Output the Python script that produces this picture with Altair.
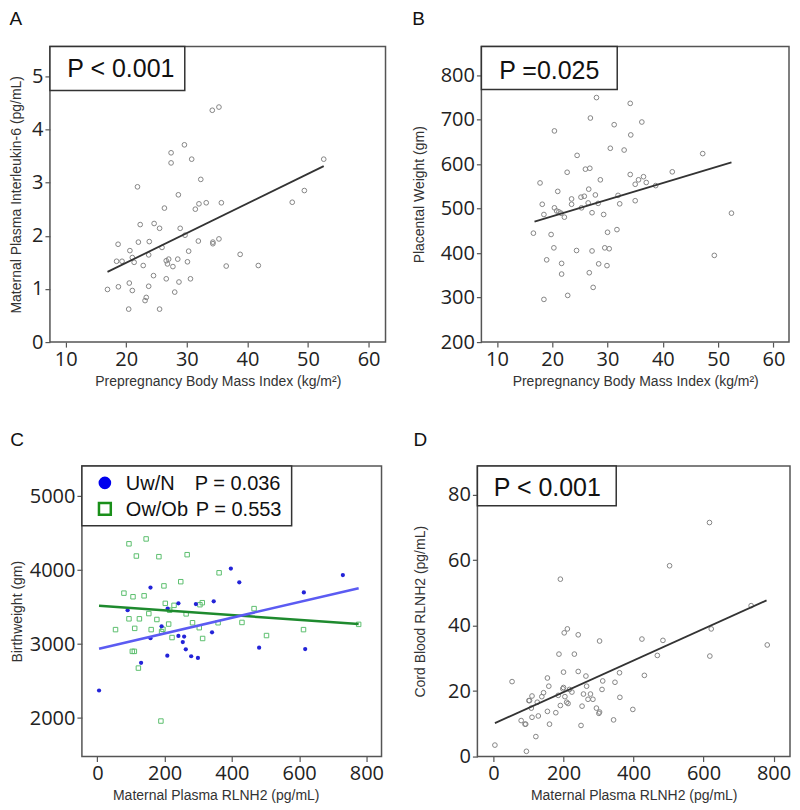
import altair as alt
import pandas as pd

# ---------------- Panel A: BMI vs IL-6 ----------------
a_x = [16.9, 18.65, 18.4, 19.3, 18.7, 21.85, 20.6, 21.0, 21.3, 20.5, 21.0, 20.4, 22.0, 22.3, 22.8,
       23.8, 23.7, 23.7, 23.3, 23.1, 24.6, 24.5, 25.5, 25.5, 25.9, 26.3, 26.6, 26.6, 26.8, 27.0,
       27.4, 27.4, 27.7, 28.0, 28.5, 28.6, 28.7, 28.9, 29.6, 29.7, 30.1, 30.3, 30.6, 30.8, 31.4,
       32.0, 31.9, 32.3, 33.2, 34.2, 35.3, 34.3, 34.3, 35.3, 35.7, 36.5, 38.8, 41.8, 47.4, 49.4, 52.6]
a_y = [0.99, 1.84, 1.52, 1.52, 1.04, 2.92, 1.72, 1.59, 1.50, 1.11, 0.97, 0.62, 1.88, 2.21, 1.44,
       1.89, 1.64, 1.05, 0.84, 0.78, 2.23, 1.25, 2.14, 0.62, 1.78, 2.52, 1.53, 1.19, 1.47, 1.56,
       3.56, 3.37, 1.42, 0.94, 1.56, 2.77, 1.13, 2.14, 3.71, 2.01, 1.51, 1.71, 1.19, 3.44, 2.50,
       2.60, 1.90, 3.06, 2.62, 4.36, 4.42, 1.85, 1.88, 1.94, 2.62, 1.43, 1.65, 1.44, 2.63, 2.85, 3.44]
a_fit_x = [16.9, 52.6]
a_fit_y = [1.32, 3.31]

# ---------------- Panel B: BMI vs placental weight ----------------
b_x = [16.6, 17.8, 18.2, 18.5, 18.5, 19.0, 19.8, 20.3, 20.4, 20.4, 20.8, 21.0, 21.2, 21.6, 21.7,
       21.7, 22.2, 22.7, 22.8, 23.5, 23.5, 24.4, 24.5, 25.2, 25.3, 25.8, 26.0, 26.5, 26.6, 26.7,
       26.8, 26.9, 27.2, 27.2, 27.4, 27.8, 28.0, 28.3, 28.4, 28.7, 29.3, 29.5, 29.9, 30.0, 30.3,
       30.5, 31.2, 31.7, 31.9, 32.2, 33.0, 34.1, 34.1, 34.2, 35.0, 35.0, 35.6, 36.2, 36.5, 37.0,
       38.7, 41.7, 47.2, 49.3, 52.4]
b_y = [445, 558, 510, 487, 296, 385, 442, 412, 675, 502, 495, 539, 493, 490, 377,
       353, 481, 582, 305, 522, 510, 406, 620, 526, 502, 528, 589, 513, 544, 356,
       591, 704, 491, 405, 323, 531, 750, 512, 376, 565, 487, 412, 372, 447, 410,
       636, 689, 453, 530, 511, 632, 737, 577, 666, 518, 555, 565, 695, 572, 559,
       552, 583, 624, 395, 490]
b_fit_x = [16.8, 52.4]
b_fit_y = [471, 604]

# ---------------- Panel C: RLNH2 vs birthweight ----------------
cb_x = [5, 90, 130, 158, 158, 191, 209, 208, 241, 241, 254, 258, 263, 279, 293, 299, 341, 346,
        397, 422, 481, 614, 618, 730]
cb_y = [2373, 3458, 2747, 3764, 3080, 3240, 3480, 2844, 3551, 3111, 3027, 3102, 2929, 2836,
        3542, 2813, 3160, 3578, 4022, 3836, 2951, 3698, 2933, 3933]
cg_x = [54, 79, 94, 94, 106, 104, 110, 111, 116, 122, 125, 139, 145, 153, 160, 177, 183, 189,
        191, 195, 198, 198, 202, 212, 215, 222, 228, 248, 264, 267, 283, 303, 305, 312, 313,
        359, 362, 430, 466, 503, 613, 777]
cg_y = [3196, 3689, 4356, 3342, 3640, 2902, 2902, 3213, 4191, 2676, 3342, 3653, 4422, 3413,
        3196, 3333, 4182, 1960, 3169, 3200, 4653, 3787, 3551, 3271, 3458, 3089, 3524, 3844,
        3409, 4209, 3289, 3222, 3533, 3560, 3076, 3289, 3964, 3293, 3480, 3116, 3196, 3267]
cb_fit_x = [5, 777]
cb_fit_y = [2938, 3756]
cg_fit_x = [5, 777]
cg_fit_y = [3520, 3271]

# ---------------- Panel D: maternal vs cord RLNH2 ----------------
d_x = [4, 53, 79, 90, 92, 94, 101, 103, 110, 108, 110, 121, 125, 128, 138, 143, 154, 154, 158,
       160, 178, 185, 187, 191, 191, 198, 200, 200, 202, 204, 209, 211, 213, 217, 224, 231, 242,
       242, 250, 253, 257, 264, 266, 270, 277, 284, 294, 301, 303, 303, 310, 312, 343, 347, 360,
       361, 398, 424, 431, 468, 484, 503, 617, 618, 622, 736, 782]
d_y = [3.5, 22.9, 11.0, 9.9, 9.9, 1.6, 17.1, 17.1, 18.5, 14.8, 12.0, 6.1, 16.6, 12.4, 18.3, 19.5,
       24.0, 13.8, 21.5, 9.9, 13.4, 18.7, 31.3, 54.2, 15.6, 20.7, 25.8, 21.1, 37.8, 18.3, 16.6,
       39.0, 16.2, 20.5, 19.7, 31.3, 37.2, 26.0, 9.5, 15.4, 19.1, 24.6, 21.5, 17.5, 19.1, 17.5,
       14.8, 13.2, 35.3, 13.6, 20.5, 23.1, 11.2, 22.7, 25.6, 18.1, 14.4, 35.9, 24.8, 30.9, 35.5,
       58.3, 71.5, 30.7, 39.0, 46.1, 34.1]
d_fit_x = [4, 780]
d_fit_y = [10.2, 47.7]

BMI_TICKS = [10, 20, 30, 40, 50, 60]
RL_TICKS = [0, 200, 400, 600, 800]
BMI_TITLE = "Prepregnancy Body Mass Index (kg/m\u00b2)"
RL_TITLE = "Maternal Plasma RLNH2 (pg/mL)"
FRAME = "#555555"


def enc(xdom, ydom, xvals=None, yvals=None, xtitle=None, ytitle=None, ytp=10, yoff=0):
    xs = alt.Scale(domain=xdom, nice=False, zero=False)
    ys = alt.Scale(domain=ydom, nice=False, zero=False)
    if xvals is None:
        return dict(x=alt.X("x:Q", scale=xs), y=alt.Y("y:Q", scale=ys))
    return dict(
        x=alt.X("x:Q", scale=xs, axis=alt.Axis(values=xvals, title=xtitle, format="d",
                                               titlePadding=5, labelPadding=2)),
        y=alt.Y("y:Q", scale=ys, axis=alt.Axis(values=yvals, title=ytitle, format="d",
                                               titlePadding=ytp, labelPadding=2, offset=yoff)),
    )


def gray_points(x, y, e):
    return alt.Chart(pd.DataFrame({"x": x, "y": y})).mark_point(
        shape="circle", filled=False, size=22, color="#858585", strokeWidth=1, opacity=1
    ).encode(**e)


def fit_line(x, y, e, color="#333333", sw=1.8):
    return alt.Chart(pd.DataFrame({"x": x, "y": y})).mark_line(color=color, strokeWidth=sw).encode(**e)


def pbox(text, w, h, tx, ty):
    one = pd.DataFrame({"t": [text]})
    box = alt.Chart(one).mark_rect(fill="white", stroke="#333333", strokeWidth=1.5).encode(
        x=alt.value(0), x2=alt.value(w), y=alt.value(0), y2=alt.value(h))
    txt = alt.Chart(one).mark_text(font="Liberation Sans", fontSize=25, color="#111111",
                                   align="center", baseline="middle").encode(
        x=alt.value(tx), y=alt.value(ty), text="t:N")
    return box + txt


# Panel A
ea = enc([7.4, 62.8], [0, 5.56], BMI_TICKS, [0, 1, 2, 3, 4, 5], BMI_TITLE,
         "Maternal Plasma Interleukin-6 (pg/mL)", 8)
ea2 = enc([7.4, 62.8], [0, 5.56])
panel_a = alt.layer(
    gray_points(a_x, a_y, ea), fit_line(a_fit_x, a_fit_y, ea2), pbox("P < 0.001", 135, 44, 71, 23)
).properties(width=336, height=296,
             title=alt.TitleParams("A", anchor="start", frame="bounds", offset=17))

# Panel B
eb = enc([7.2, 62.8], [200, 865], BMI_TICKS, [200, 300, 400, 500, 600, 700, 800], BMI_TITLE,
         "Placental Weight (gm)", 14)
eb2 = enc([7.2, 62.8], [200, 865])
panel_b = alt.layer(
    gray_points(b_x, b_y, eb), fit_line(b_fit_x, b_fit_y, eb2), pbox("P =0.025", 136, 43, 68, 25)
).properties(width=308, height=296,
             title=alt.TitleParams("B", anchor="start", frame="bounds", offset=17))

# Panel C: plot area extended 32px to the left (blank), frame drawn at the real plot edge
CL = 32          # blank strip on the left of panel C
CW = 300         # visible plot width of panel C
CH = 291
ec = enc([-141, 845], [1480, 5409], RL_TICKS, [2000, 3000, 4000, 5000], RL_TITLE,
         "Birthweight (gm)", 5, -CL)
ec2 = enc([-141, 845], [1480, 5409])
green_pts = alt.Chart(pd.DataFrame({"x": cg_x, "y": cg_y})).mark_point(
    shape="square", filled=False, size=20, color="#5cbf6e", strokeWidth=1, opacity=1).encode(**ec)
blue_pts = alt.Chart(pd.DataFrame({"x": cb_x, "y": cb_y})).mark_point(
    shape="circle", filled=True, size=18, color="#2323d8", opacity=1).encode(**ec2)
frame_df = pd.DataFrame({"f": [1]})
c_frame = alt.Chart(frame_df).mark_rect(fillOpacity=0, stroke=FRAME, strokeWidth=1.5).encode(
    x=alt.value(CL), x2=alt.value(CL + CW), y=alt.value(0), y2=alt.value(CH))
leg_df = pd.DataFrame({"a": ["Uw/N"], "b": ["P = 0.036"], "c": ["Ow/Ob"], "d": ["P = 0.553"]})
leg_box = alt.Chart(leg_df).mark_rect(fill="white", stroke="#333333", strokeWidth=1.5).encode(
    x=alt.value(CL), x2=alt.value(CL + 210), y=alt.value(0), y2=alt.value(60))
leg_c1 = alt.Chart(leg_df).mark_point(shape="circle", filled=True, size=160, color="#0000ee", opacity=1).encode(
    x=alt.value(CL + 23), y=alt.value(17))
leg_s2 = alt.Chart(leg_df).mark_point(shape="square", filled=False, size=140, color="#1a8f1a",
                                      strokeWidth=2.5, opacity=1).encode(x=alt.value(CL + 23), y=alt.value(43))
tkw = dict(font="Liberation Sans", fontSize=20, color="#111111", align="left", baseline="middle")
leg_t1 = alt.Chart(leg_df).mark_text(**tkw).encode(x=alt.value(CL + 44), y=alt.value(18), text="a:N")
leg_t2 = alt.Chart(leg_df).mark_text(**tkw).encode(x=alt.value(CL + 113), y=alt.value(18), text="b:N")
leg_t3 = alt.Chart(leg_df).mark_text(**tkw).encode(x=alt.value(CL + 44), y=alt.value(44), text="c:N")
leg_t4 = alt.Chart(leg_df).mark_text(**tkw).encode(x=alt.value(CL + 114), y=alt.value(44), text="d:N")
panel_c = alt.layer(
    green_pts, blue_pts,
    fit_line(cg_fit_x, cg_fit_y, ec2, color="#1e8a2e", sw=2.5),
    fit_line(cb_fit_x, cb_fit_y, ec2, color="#5b5bf2", sw=2.5),
    c_frame, leg_box, leg_c1, leg_s2, leg_t1, leg_t2, leg_t3, leg_t4,
).properties(width=CL + CW, height=CH, view=alt.ViewBackground(stroke="transparent"),
             title=alt.TitleParams("C", anchor="start", frame="bounds", offset=15))

# Panel D
ed = enc([-46, 847], [0, 88.8], RL_TICKS, [0, 20, 40, 60, 80], RL_TITLE,
         "Cord Blood RLNH2 (pg/mL)", 20)
ed2 = enc([-46, 847], [0, 88.8])
panel_d = alt.layer(
    gray_points(d_x, d_y, ed), fit_line(d_fit_x, d_fit_y, ed2), pbox("P < 0.001", 139, 40, 70, 22)
).properties(width=313, height=291,
             title=alt.TitleParams("D", anchor="start", frame="bounds", offset=15))

row1 = alt.hconcat(panel_a, panel_b, spacing=24)
row2 = alt.hconcat(panel_c, panel_d, spacing=28)

chart = alt.vconcat(row1, row2, spacing=41).properties(padding=0).configure_view(
    stroke=FRAME, strokeWidth=1.5
).configure_axis(
    labelFont="Open Sans", labelFontSize=20, labelColor="#222222",
    tickColor="#555555", tickSize=5, tickWidth=1.2, domain=False, grid=False,
    titleFont="Liberation Sans", titleFontSize=14, titleFontWeight="normal", titleColor="#333333",
).configure_title(font="Liberation Sans", fontSize=19, fontWeight="normal", color="#111111")

chart.save("out.html", embed_options={"renderer": "svg", "actions": False})
